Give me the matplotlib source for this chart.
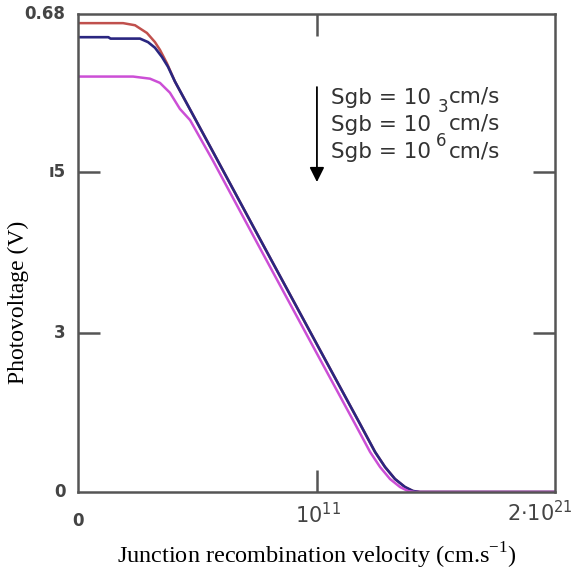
import numpy as np
import matplotlib
matplotlib.use("Agg")
import matplotlib.pyplot as plt

# x is the position along the (log-like) Mathcad axis, 0 .. 22 with 10^11 at the middle
red_x = [0, 2.08, 2.63, 3.18, 3.55, 3.78, 4.10, 4.47, 6.18, 8.39, 11.16, 13.01, 13.70, 14.16, 14.62, 15.08, 15.45, 15.77, 22]
red_y = [0.667, 0.667, 0.664, 0.653, 0.640, 0.629, 0.610, 0.584, 0.4865, 0.360, 0.202, 0.0967, 0.057, 0.0356, 0.0185, 0.0071, 0.0014, 0.0, 0.0]

blue_x = [0, 1.4, 1.5, 2.86, 3.23, 3.55, 3.87, 4.15, 4.47, 6.18, 8.39, 11.16, 13.01, 13.70, 14.16, 14.62, 15.08, 15.45, 15.77, 22]
blue_y = [0.647, 0.647, 0.645, 0.645, 0.640, 0.632, 0.619, 0.605, 0.584, 0.4865, 0.360, 0.202, 0.0967, 0.057, 0.0356, 0.0185, 0.0071, 0.0014, 0.0, 0.0]

mag_x = [0, 2.54, 3.32, 3.78, 4.24, 4.70, 5.17, 6.23, 8.39, 10.93, 12.78, 13.47, 13.93, 14.39, 14.85, 15.22, 15.54, 22]
mag_y = [0.591, 0.591, 0.588, 0.582, 0.568, 0.545, 0.529, 0.471, 0.347, 0.202, 0.0967, 0.057, 0.0356, 0.0185, 0.0071, 0.0014, 0.0, 0.0]

xticks = [0, 11, 22]
xtick_labels = ["0", r"$10^{11}$", r"$2{\cdot}10^{21}$"]
yticks = [0, 0.226, 0.455, 0.68]
ytick_labels = ["0", "3", "ı5", "0.68"]

fig = plt.figure(figsize=(5.8, 5.83), dpi=100)
ax = fig.add_axes([78/580, 91/583, 477/580, 478/583])

ax.plot(red_x, red_y, color='#c0504d', linewidth=1.8)
ax.plot(blue_x, blue_y, color='#2a2680', linewidth=1.9)
ax.plot(mag_x, mag_y, color='#cc4fd6', linewidth=1.8)

ax.set_xlim(0, 22)
ax.set_ylim(0, 0.68)

for s in ax.spines.values():
    s.set_color('#555555')
    s.set_linewidth(1.8)

ax.set_xticks(xticks[1:2])
ax.set_xticklabels([])
ax.set_yticks(yticks[1:3])
ax.set_yticklabels([])
ax.tick_params(direction='in', length=16, width=1.8, color='#555555',
               top=True, right=True)

tick_font = dict(family='DejaVu Sans', fontsize=12, color='#444444', fontweight='bold')
for v, lab in zip(yticks, ytick_labels):
    ax.annotate(lab, xy=(0, v), xycoords=('axes fraction', 'data'),
                xytext=(-9, 0), textcoords='offset points', ha='right', va='center', **tick_font)
ax.annotate(xtick_labels[0], xy=(xticks[0], 0), xycoords='data', xytext=(0, -21),
            textcoords='offset points', ha='center', va='center', **tick_font)
ax.annotate(xtick_labels[1], xy=(xticks[1], 0), xycoords='data', xytext=(1, -16),
            textcoords='offset points', ha='center', va='center',
            family='DejaVu Serif', fontsize=15, color='#444444')
ax.annotate(xtick_labels[2], xy=(xticks[2], 0), xycoords='data', xytext=(-11, -15),
            textcoords='offset points', ha='center', va='center',
            family='DejaVu Serif', fontsize=15, color='#444444')

# legend-like annotation
ax.annotate('', xy=(11.02, 0.437), xytext=(11.02, 0.58),
            arrowprops=dict(arrowstyle='-|>', color='black', lw=1.3, mutation_scale=22))
leg_font = dict(family='DejaVu Sans', fontsize=15.5, color='#333333')
for i, y in enumerate([0.56, 0.522, 0.483]):
    ax.text(11.65, y, "Sgb = 10", ha='left', va='center', **leg_font)
    ax.text(17.1, y + 0.002, "cm/s", ha='left', va='center', **leg_font)
ax.text(16.6, 0.547, "3", ha='left', va='center', family='DejaVu Sans', fontsize=12, color='#333333')
ax.text(16.5, 0.499, "6", ha='left', va='center', family='DejaVu Sans', fontsize=12, color='#333333')

fig.text(18/580, 1 - 302/583, "Photovoltage (V)", rotation=90, ha='center', va='center',
         family='Liberation Serif', fontsize=17)
fig.text(317/580, 1 - 556/583, r"Junction recombination velocity (cm.s$^{\mathregular{-1}}$)",
         ha='center', va='center', family='Liberation Serif', fontsize=17.5)

fig.savefig("out.png", dpi=100, facecolor='white')
